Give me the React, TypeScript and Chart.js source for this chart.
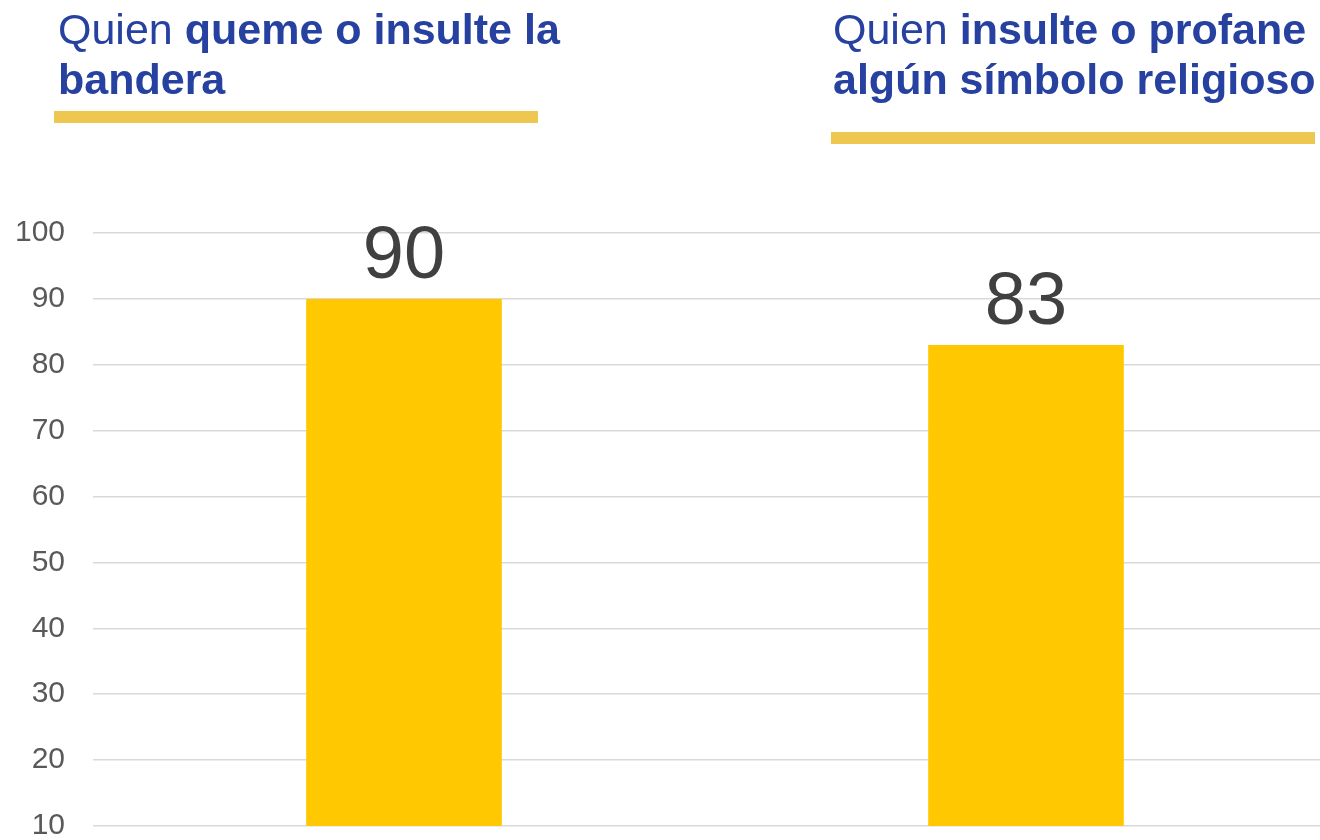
import React, { useEffect, useRef } from "react";
import { Chart, registerables } from "chart.js";

Chart.register(...registerables);

const categories = ["bandera", "religioso"];
const values = [90, 83];
const yTicks = [10, 20, 30, 40, 50, 60, 70, 80, 90, 100];

const labelPlugin = {
  id: "valueLabels",
  afterDatasetsDraw(chart: any) {
    const ctx = chart.ctx;
    const meta = chart.getDatasetMeta(0);
    ctx.save();
    ctx.font = '74px "Liberation Sans", Arial, sans-serif';
    ctx.fillStyle = "#404040";
    ctx.textAlign = "center";
    ctx.textBaseline = "alphabetic";
    meta.data.forEach((bar: any, i: number) => {
      ctx.fillText(String(values[i]), bar.x, bar.y - 21);
    });
    ctx.restore();
  },
};

export default function App() {
  const ref = useRef<HTMLCanvasElement | null>(null);
  useEffect(() => {
    if (!ref.current) return;
    const chart = new Chart(ref.current, {
      type: "bar",
      data: {
        labels: categories,
        datasets: [
          {
            data: values,
            backgroundColor: "#FFC800",
            borderWidth: 0,
            barPercentage: 0.3145,
            categoryPercentage: 1,
          },
        ],
      },
      options: {
        animation: false,
        responsive: false,
        maintainAspectRatio: false,
        layout: { padding: { top: 233, bottom: 14, left: 0, right: 0 } },
        plugins: { legend: { display: false }, tooltip: { enabled: false } },
        scales: {
          x: { display: false },
          y: {
            min: 10,
            max: 100,
            afterBuildTicks(scale: any) {
              scale.ticks = yTicks.map((v) => ({ value: v }));
            },
            afterFit(scale: any) {
              scale.width = 93;
            },
            border: { display: false },
            grid: { color: "#D9D9D9", lineWidth: 1.5, drawTicks: false },
            ticks: {
              padding: 28,
              color: "#595959",
              font: { family: '"Liberation Sans", Arial, sans-serif', size: 30 },
            },
          },
        },
      },
      plugins: [labelPlugin],
    });
    return () => chart.destroy();
  }, []);

  const titleStyle: React.CSSProperties = {
    position: "absolute",
    margin: 0,
    fontFamily: '"Liberation Sans", Arial, sans-serif',
    fontSize: 43,
    lineHeight: "50px",
    color: "#2641A0",
    whiteSpace: "nowrap",
  };
  const barStyle: React.CSSProperties = {
    position: "absolute",
    height: 12,
    width: 484,
    background: "#EDC74F",
  };

  return (
    <div style={{ position: "fixed", left: 0, top: 0, width: 1320, height: 840, overflow: "hidden", background: "#fff" }}>
      <canvas ref={ref} width={1337} height={872} style={{ position: "absolute", left: 0, top: 0, width: 1337, height: 872 }} />
      <div style={{ ...titleStyle, left: 58, top: 4 }}>
        Quien <b>queme o insulte la</b>
        <br />
        <b>bandera</b>
      </div>
      <div style={{ ...titleStyle, left: 833, top: 4 }}>
        Quien <b>insulte o profane</b>
        <br />
        <b>algún símbolo religioso</b>
      </div>
      <div style={{ ...barStyle, left: 54, top: 111 }} />
      <div style={{ ...barStyle, left: 831, top: 132 }} />
    </div>
  );
}
